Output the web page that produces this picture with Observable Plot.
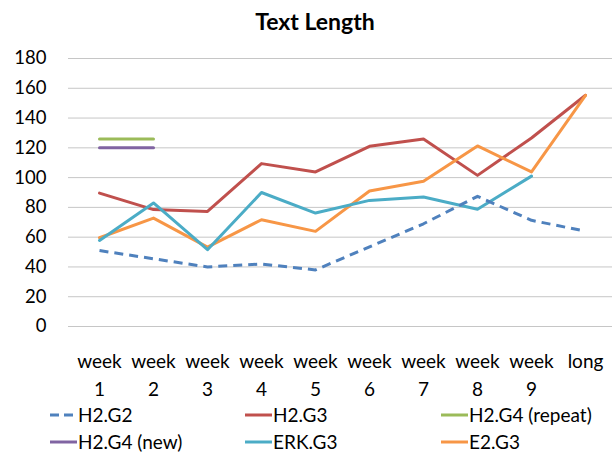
<!DOCTYPE html>
<html>
<head>
<meta charset="utf-8">
<script src="https://cdn.jsdelivr.net/npm/d3@7"></script>
<script src="https://cdn.jsdelivr.net/npm/@observablehq/plot@0.6"></script>
<style>
  html, body { margin: 0; padding: 0; background: #fff; }
  #wrap { position: relative; width: 612px; height: 456px; overflow: hidden; font-family: Lato, "Open Sans", sans-serif; color: #000; }
  #title { position: absolute; top: 6px; left: 18px; width: 594px; text-align: center; font-weight: bold; font-size: 23px; line-height: 30px; }
  #chart { position: absolute; top: 40px; left: 0; }
  .leg { position: absolute; display: flex; align-items: center; font-size: 19px; line-height: 22px; white-space: nowrap; }
  .leg svg { margin-right: 1px; }
</style>
</head>
<body>
<div id="wrap">
  <div id="title">Text Length</div>
  <div id="chart"></div>
</div>
<script>
// ---- data ----
const categories = ["week 1", "week 2", "week 3", "week 4", "week 5", "week 6", "week 7", "week 8", "week 9", "long"];
const tickLabels = ["week\n1", "week\n2", "week\n3", "week\n4", "week\n5", "week\n6", "week\n7", "week\n8", "week\n9", "long"];
const yTicks = [0, 20, 40, 60, 80, 100, 120, 140, 160, 180];

const seriesNames = ["H2.G2", "H2.G3", "H2.G4 (repeat)", "H2.G4 (new)", "ERK.G3", "E2.G3"];
const seriesColors = ["#4F81BD", "#C0504D", "#9BBB59", "#8064A2", "#4BACC6", "#F79646"];
const seriesDashed = [true, false, false, false, false, false];

const h2g2      = [51, 45.5, 40, 42, 38, 53.5, 69, 87.4, 71.3, 64];
const h2g3      = [89.6, 78.5, 77.3, 109.4, 103.8, 121, 126, 101.5, 126.6, 155.3];
const h2g4Rep   = [126, 126, null, null, null, null, null, null, null, null];
const h2g4New   = [120, 120, null, null, null, null, null, null, null, null];
const erkg3     = [57.8, 83, 51.6, 90, 76.2, 84.7, 87, 78.7, 101, null];
const e2g3      = [59.6, 72.8, 53.3, 71.7, 63.9, 91, 97.5, 121.3, 103.8, 155.3];

const seriesValues = [h2g2, h2g3, h2g4Rep, h2g4New, erkg3, e2g3];

// ---- build tidy table ----
const rows = [];
seriesNames.forEach((name, s) => {
  seriesValues[s].forEach((v, i) => rows.push({series: name, cat: categories[i], value: v}));
});

// draw order as in reference (H2.G2 dashed on top)
const drawOrder = [1, 2, 3, 5, 4, 0];

const lineMarks = drawOrder.map(s => Plot.line(rows.filter(r => r.series === seriesNames[s]), {
  x: "cat", y: "value",
  stroke: seriesColors[s],
  strokeWidth: 3,
  strokeDasharray: seriesDashed[s] ? "9,6" : null,
  strokeLinejoin: "round",
  strokeLinecap: seriesDashed[s] ? "butt" : "round"
}));

const chart = Plot.plot({
  width: 612,
  height: 360,
  marginLeft: 68,
  marginRight: 0,
  marginTop: 18,
  marginBottom: 74,
  style: {fontFamily: "Lato, 'Open Sans', sans-serif", fontSize: "19px", color: "#000", background: "transparent", overflow: "visible"},
  x: {type: "point", domain: categories, padding: 0.5, range: [68, 616]},
  y: {domain: [0, 180]},
  marks: [
    Plot.ruleY(yTicks, {stroke: "#c6c6c6", strokeWidth: 1}),
    Plot.axisY(yTicks, {tickSize: 0, tickPadding: 22, label: null, fontSize: 18.5, tickFormat: d => String(d)}),
    Plot.axisX(categories, {tickSize: 0, tickPadding: 21.5, label: null, fontSize: 19, lineHeight: 1.47,
      tickFormat: d => tickLabels[categories.indexOf(d)]}),
    ...lineMarks
  ]
});
document.getElementById("chart").appendChild(chart);

// ---- legend ----
const legCols = [50, 245, 441];
const legRows = [404, 431];
const wrap = document.getElementById("wrap");
seriesNames.forEach((name, s) => {
  const d = document.createElement("div");
  d.className = "leg";
  d.style.left = legCols[s % 3] + "px";
  d.style.top = legRows[Math.floor(s / 3)] + "px";
  const dash = seriesDashed[s] ? 'stroke-dasharray="9,5"' : '';
  d.innerHTML = `<svg width="27" height="6"><line x1="0" x2="27" y1="3" y2="3" stroke="${seriesColors[s]}" stroke-width="3" ${dash}/></svg><span>${name}</span>`;
  wrap.appendChild(d);
});
</script>
</body>
</html>
